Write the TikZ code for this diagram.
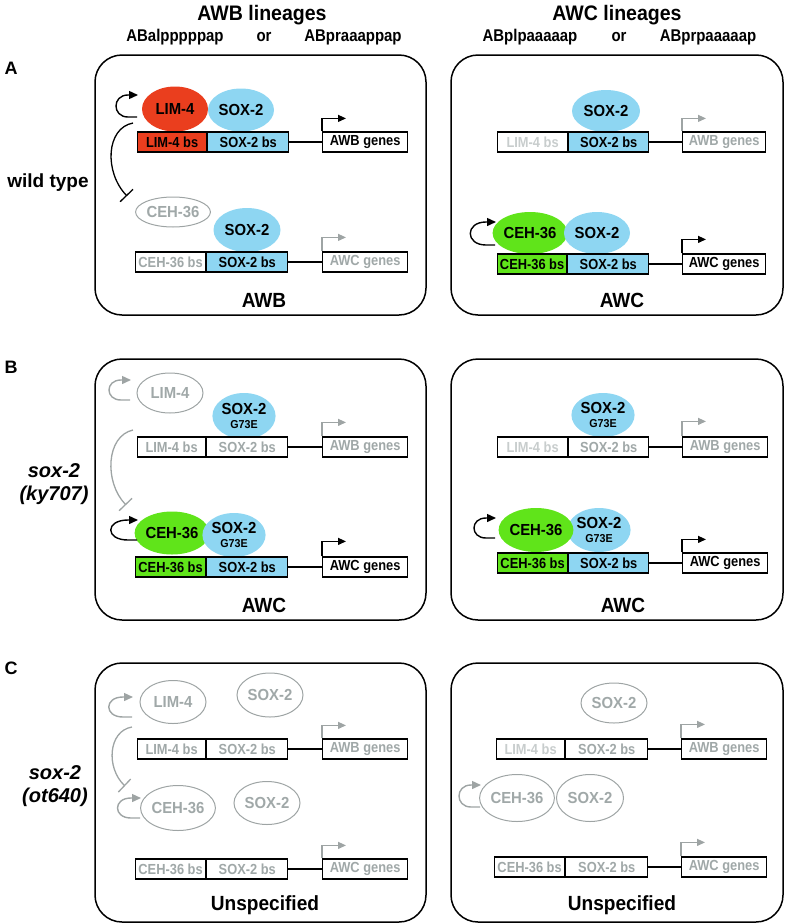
\documentclass[tikz,border=0pt]{standalone}
\usepackage{fontspec}
\setmainfont{Liberation Sans}
\newfontfamily\condfont[FakeStretch=0.88]{Liberation Sans}
\newfontfamily\semicond[FakeStretch=0.93]{Liberation Sans}
\usetikzlibrary{shapes.geometric,arrows.meta}
\definecolor{lred}{RGB}{234,62,30}
\definecolor{lblue}{RGB}{142,214,242}
\definecolor{lgreen}{RGB}{96,228,26}
\definecolor{gline}{RGB}{158,164,164}
\definecolor{gtext}{RGB}{160,168,168}
\definecolor{ltext}{RGB}{200,205,205}
\tikzset{
 panel/.style={draw=black, line width=1.5pt, rounded corners=27pt},
 bx/.style={draw=black, line width=1.2pt, anchor=west, minimum height=20pt, inner sep=0pt, font=\condfont\fontsize{14.6}{14.6}\selectfont\bfseries},
 prot/.style={ellipse, inner sep=0pt, align=center, font=\semicond\fontsize{16}{16}\selectfont\bfseries},
 gprot/.style={prot, draw=gline, line width=1pt, text=gtext},
 link/.style={draw=black, line width=1.2pt},
 prom/.style={line width=1.2pt, -{Triangle[length=8pt,width=7pt]}},
 selfloop/.style={line width=1.4pt, -{Triangle[length=9pt,width=8pt]}},
 inhib/.style={line width=1.3pt, -{Bar[width=18pt]}},
 plabel/.style={font=\semicond\fontsize{20.5}{20.5}\selectfont\bfseries},
 htitle/.style={font=\semicond\fontsize{21}{21}\selectfont\bfseries},
 hsub/.style={font=\condfont\fontsize{17}{17}\selectfont\bfseries},
 letter/.style={font=\fontsize{18}{18}\selectfont\bfseries},
 side/.style={align=center, font=\fontsize{20}{23}\selectfont\bfseries\itshape}
}
\newcommand\gsub{\\[-2pt]\fontsize{11.5}{11.5}\selectfont G73E}
\begin{document}
\begin{tikzpicture}[x=1pt,y=-1pt]
\useasboundingbox (0,0) rectangle (785,924);
% headers
\node[htitle] (h1) at (262,15) {AWB lineages};
\node[hsub] (h1a) at (175,37) {ABalpppppap};
\node[hsub] (h1b) at (264,37) {or};
\node[hsub] (h1c) at (353,37) {ABpraaappap};
\node[htitle] (h2) at (617,15) {AWC lineages};
\node[hsub] (h2a) at (530,37) {ABplpaaaaap};
\node[hsub] (h2b) at (619,37) {or};
\node[hsub] (h2c) at (708,37) {ABprpaaaaap};
% letters and side labels
\node[letter] (LA) at (11,68) {A};
\node[letter] (LB) at (11,367) {B};
\node[letter] (LC) at (11,668) {C};
\node[font=\fontsize{19}{19}\selectfont\bfseries] (sA) at (48,183) {wild type};
\node[side] (sB) at (54,484) {sox-2\\(ky707)};
\node[side] (sC) at (55,786) {sox-2\\(ot640)};
% panels
\draw[panel] (95,55) rectangle (426,315);
\draw[panel] (451,55) rectangle (783,315);
\draw[panel] (95,359) rectangle (426,620);
\draw[panel] (451,359) rectangle (783,620);
\draw[panel] (95,663) rectangle (426,922);
\draw[panel] (451,663) rectangle (783,922);
\node[plabel] (pAL) at (264,300) {AWB};
\node[plabel] (pAR) at (622,300) {AWC};
\node[plabel] (pBL) at (264,605) {AWC};
\node[plabel] (pBR) at (623,605) {AWC};
\node[plabel] (pCL) at (265,905) {Unspecified};
\node[plabel] (pCR) at (622,905) {Unspecified};

% ===== A left =====
\node[prot, fill=lred, minimum width=66pt, minimum height=45pt] (aLlim) at (175,109) {LIM-4};
\node[prot, fill=lblue, minimum width=66pt, minimum height=43pt] (aLsox) at (241,110) {SOX-2};
\node[bx, fill=lred, minimum width=69pt] (aLb1) at (137,142) {LIM-4 bs};
\node[bx, fill=lblue, minimum width=81pt] (aLb2) at (aLb1.east) {SOX-2 bs};
\node[bx, fill=white, minimum width=85pt] (aLg1) at (322,142) {AWB genes};
\draw[link] (aLb2) -- (aLg1);
\draw[prom] (aLg1.north west) -- ++(0,-13) -- ++(24,0);
\draw[selfloop] (137,117) -- (128,117) .. controls (112,117) and (112,95) .. (128,95) -- (138,95);
\draw[inhib] (133,123) .. controls (106,128) and (104,172) .. (127,196);
\node[gprot, minimum width=66pt, minimum height=30pt] (aLceh) at (173,212) {CEH-36};
\node[prot, fill=lblue, minimum width=67pt, minimum height=44pt] (aLsox2) at (247,230) {SOX-2};
\node[bx, fill=white, text=gtext, minimum width=70pt] (aLb3) at (135,262) {CEH-36 bs};
\node[bx, fill=lblue, minimum width=81pt] (aLb4) at (aLb3.east) {SOX-2 bs};
\node[bx, fill=white, text=gtext, minimum width=85pt] (aLg2) at (322,262) {AWC genes};
\draw[link] (aLb4) -- (aLg2);
\draw[prom, gline] (aLg2.north west) -- ++(0,-14) -- ++(24,0);

% ===== A right =====
\node[prot, fill=lblue, minimum width=68pt, minimum height=42pt] (aRsox) at (606,111) {SOX-2};
\node[bx, fill=white, text=ltext, minimum width=70pt] (aRb1) at (497,142) {LIM-4 bs};
\node[bx, fill=lblue, minimum width=80pt] (aRb2) at (aRb1.east) {SOX-2 bs};
\node[bx, fill=white, text=gtext, minimum width=83pt] (aRg1) at (682,142) {AWB genes};
\draw[link] (aRb2) -- (aRg1);
\draw[prom, gline] (aRg1.north west) -- ++(0,-13) -- ++(24,0);
\node[prot, fill=lgreen, minimum width=66pt, minimum height=42pt] (aRceh) at (530,233) {CEH-36};
\node[prot, fill=lblue, minimum width=66pt, minimum height=42pt] (aRsox2) at (597,233) {SOX-2};
\draw[selfloop] (495,245) -- (486,245) .. controls (465,245) and (465,222) .. (486,222) -- (496,222);
\node[bx, fill=lgreen, minimum width=69pt] (aRb3) at (497,264) {CEH-36 bs};
\node[bx, fill=lblue, minimum width=81pt] (aRb4) at (aRb3.east) {SOX-2 bs};
\node[bx, fill=white, minimum width=83pt] (aRg2) at (682,264) {AWC genes};
\draw[link] (aRb4) -- (aRg2);
\draw[prom] (aRg2.north west) -- ++(0,-14) -- ++(24,0);

% ===== B left =====
\node[gprot, minimum width=66pt, minimum height=40pt] (bLlim) at (170,393) {LIM-4};
\draw[selfloop, gline] (130,400) -- (121,400) .. controls (105,400) and (105,380) .. (121,380) -- (131,380);
\node[prot, fill=lblue, minimum width=62pt, minimum height=46pt] (bLsox) at (244,416) {SOX-2\gsub};
\node[bx, fill=white, text=gtext, minimum width=68pt] (bLb1) at (137,447) {LIM-4 bs};
\node[bx, fill=white, text=gtext, minimum width=81pt] (bLb2) at (bLb1.east) {SOX-2 bs};
\node[bx, fill=white, text=gtext, minimum width=85pt] (bLg1) at (322,447) {AWB genes};
\draw[link] (bLb2) -- (bLg1);
\draw[prom, gline] (bLg1.north west) -- ++(0,-14) -- ++(24,0);
\draw[inhib, gline] (133,430) .. controls (106,436) and (104,482) .. (126,505);
\node[prot, fill=lgreen, minimum width=67pt, minimum height=43pt] (bLceh) at (172,533) {CEH-36};
\node[prot, fill=lblue, minimum width=62pt, minimum height=44pt] (bLsox2) at (234,535) {SOX-2\gsub};
\draw[selfloop] (137,540) -- (128,540) .. controls (105,540) and (105,520) .. (128,520) -- (138,520);
\node[bx, fill=lgreen, minimum width=70pt] (bLb3) at (135,567) {CEH-36 bs};
\node[bx, fill=lblue, minimum width=81pt] (bLb4) at (bLb3.east) {SOX-2 bs};
\node[bx, fill=white, minimum width=85pt] (bLg2) at (322,567) {AWC genes};
\draw[link] (bLb4) -- (bLg2);
\draw[prom] (bLg2.north west) -- ++(0,-15) -- ++(24,0);

% ===== B right =====
\node[prot, fill=lblue, minimum width=60pt, minimum height=44pt] (bRsox) at (603,415) {SOX-2\gsub};
\node[bx, fill=white, text=ltext, minimum width=70pt] (bRb1) at (497,447) {LIM-4 bs};
\node[bx, fill=white, text=gtext, minimum width=80pt] (bRb2) at (bRb1.east) {SOX-2 bs};
\node[bx, fill=white, text=gtext, minimum width=85pt] (bRg1) at (682,447) {AWB genes};
\draw[link] (bRb2) -- (bRg1);
\draw[prom, gline] (bRg1.north west) -- ++(0,-15) -- ++(24,0);
\node[prot, fill=lblue, minimum width=62pt, minimum height=44pt] (bRsox2) at (599,530) {SOX-2\gsub};
\node[prot, fill=lgreen, minimum width=68pt, minimum height=44pt] (bRceh) at (536,530) {CEH-36};
\draw[selfloop] (495,538) -- (486,538) .. controls (470,538) and (470,518) .. (486,518) -- (496,518);
\node[bx, fill=lgreen, minimum width=70pt] (bRb3) at (497,563) {CEH-36 bs};
\node[bx, fill=lblue, minimum width=80pt] (bRb4) at (bRb3.east) {SOX-2 bs};
\node[bx, fill=white, minimum width=85pt] (bRg2) at (682,563) {AWC genes};
\draw[link] (bRb4) -- (bRg2);
\draw[prom] (bRg2.north west) -- ++(0,-13) -- ++(24,0);

% ===== C left =====
\node[gprot, minimum width=66pt, minimum height=43pt] (cLlim) at (173,702) {LIM-4};
\draw[selfloop, gline] (132,717) -- (123,717) .. controls (104,717) and (104,697) .. (123,697) -- (133,697);
\node[gprot, minimum width=66pt, minimum height=44pt] (cLsox) at (270,695) {SOX-2};
\node[bx, fill=white, text=gtext, minimum width=68pt] (cLb1) at (137,749) {LIM-4 bs};
\node[bx, fill=white, text=gtext, minimum width=81pt] (cLb2) at (cLb1.east) {SOX-2 bs};
\node[bx, fill=white, text=gtext, minimum width=85pt] (cLg1) at (322,749) {AWB genes};
\draw[link] (cLb2) -- (cLg1);
\draw[prom, gline] (cLg1.north west) -- ++(0,-13) -- ++(24,0);
\draw[inhib, gline] (132,727) .. controls (108,731) and (106,768) .. (125,786);
\node[gprot, minimum width=66pt, minimum height=45pt] (cLceh) at (178,808) {CEH-36};
\draw[selfloop, gline] (140,818) -- (131,818) .. controls (113,818) and (113,798) .. (131,798) -- (141,798);
\node[gprot, minimum width=66pt, minimum height=43pt] (cLsox2) at (267,803) {SOX-2};
\node[bx, fill=white, text=gtext, minimum width=70pt] (cLb3) at (135,869) {CEH-36 bs};
\node[bx, fill=white, text=gtext, minimum width=81pt] (cLb4) at (cLb3.east) {SOX-2 bs};
\node[bx, fill=white, text=gtext, minimum width=85pt] (cLg2) at (322,869) {AWC genes};
\draw[link] (cLb4) -- (cLg2);
\draw[prom, gline] (cLg2.north west) -- ++(0,-13) -- ++(24,0);

% ===== C right =====
\node[gprot, minimum width=66pt, minimum height=40pt] (cRsox) at (614,703) {SOX-2};
\node[bx, fill=white, text=ltext, minimum width=68pt] (cRb1) at (496,749) {LIM-4 bs};
\node[bx, fill=white, text=gtext, minimum width=82pt] (cRb2) at (cRb1.east) {SOX-2 bs};
\node[bx, fill=white, text=gtext, minimum width=85pt] (cRg1) at (681,749) {AWB genes};
\draw[link] (cRb2) -- (cRg1);
\draw[prom, gline] (cRg1.north west) -- ++(0,-14) -- ++(24,0);
\node[gprot, minimum width=66pt, minimum height=47pt] (cRceh) at (517,798) {CEH-36};
\node[gprot, minimum width=67pt, minimum height=47pt] (cRsox2) at (590,798) {SOX-2};
\draw[selfloop, gline] (480,807) -- (471,807) .. controls (455,807) and (455,785) .. (471,785) -- (481,785);
\node[bx, fill=white, text=gtext, minimum width=70pt] (cRb3) at (494,867) {CEH-36 bs};
\node[bx, fill=white, text=gtext, minimum width=82pt] (cRb4) at (cRb3.east) {SOX-2 bs};
\node[bx, fill=white, text=gtext, minimum width=85pt] (cRg2) at (681,867) {AWC genes};
\draw[link] (cRb4) -- (cRg2);
\draw[prom, gline] (cRg2.north west) -- ++(0,-14) -- ++(24,0);
\end{tikzpicture}
\end{document}
